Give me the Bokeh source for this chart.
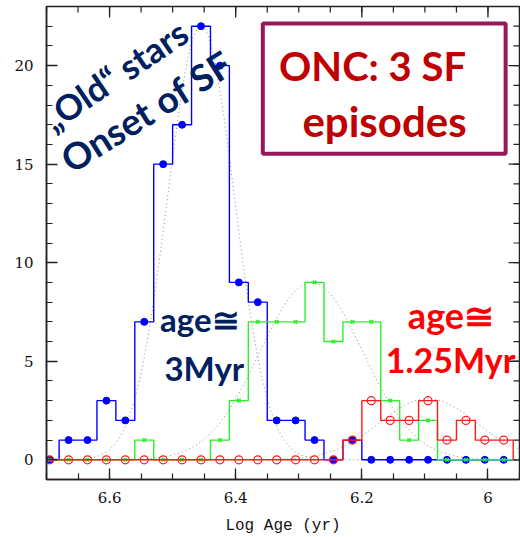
import numpy as np
from bokeh.plotting import figure
from bokeh.models import Range1d, FixedTicker, BoxAnnotation, Label
from bokeh.embed import file_html
from bokeh.resources import INLINE

# ---------------- data ----------------
bin_width = 0.03
bin_centers = [6.695, 6.665, 6.635, 6.605, 6.575, 6.545, 6.515, 6.485, 6.455,
               6.425, 6.395, 6.365, 6.335, 6.305, 6.275, 6.245, 6.215, 6.185,
               6.155, 6.125, 6.095, 6.065, 6.035, 6.005, 5.975]
blue_counts = [0, 1, 1, 3, 2, 7, 15, 17, 22, 20, 9, 8, 2, 2, 1, 0, 1, 0, 0, 0, 0, 0, 0, 0, 0]
green_counts = [0, 0, 0, 0, 0, 1, 0, 0, 0, 1, 3, 7, 7, 7, 9, 6, 7, 7, 3, 1, 2, 0, 0, 0, 0]
red_counts = [0, 0, 0, 0, 0, 0, 0, 0, 0, 0, 0, 0, 0, 0, 0, 0, 1, 3, 2, 2, 3, 1, 2, 1, 1]

# gaussian fits: amplitude, mean, sigma
blue_fit = [22.0, 6.455, 0.053]
green_fit = [9.0, 6.28, 0.082]
red_fit = [3.1, 6.095, 0.077]

x_ticks = [6.0, 6.2, 6.4, 6.6]
x_tick_labels = ["6", "6.2", "6.4", "6.6"]
x_minor = [round(6.7 - 0.05 * i, 2) for i in range(16)]
y_ticks = [0, 5, 10, 15, 20]
y_minor = list(range(-1, 24))

X0, X1, Y0, Y1 = 6.7, 5.95, -1, 23

C_BLUE = "#0000ff"
C_GREEN = "#2aef2a"
C_RED = "#ff1a1a"
C_NAVY = "#002060"
C_DARKRED = "#c00000"
C_BOX = "#97195b"
C_AX = "#222222"

FRAME = 473
MAJ, MIN = 11, 6


def step_outline(centers, counts, w):
    xs, ys = [centers[0] + w / 2], [0]
    for c, v in zip(centers, counts):
        xs += [c + w / 2, c - w / 2]
        ys += [v, v]
    xs.append(centers[-1] - w / 2); ys.append(0)
    return xs, ys


def gauss(params, x):
    a, m, s = params
    return a * np.exp(-(x - m) ** 2 / (2 * s ** 2))


p = figure(width=520, height=537, output_backend="svg", toolbar_location=None,
           x_range=Range1d(X0, X1), y_range=Range1d(Y0, Y1),
           min_border_left=46, min_border_right=1, min_border_top=6,
           min_border_bottom=58)
p.grid.visible = False
p.outline_line_color = C_AX
p.outline_line_width = 1.5
p.background_fill_color = "white"

xt = FixedTicker(ticks=x_ticks, minor_ticks=x_minor)
yt = FixedTicker(ticks=y_ticks, minor_ticks=y_minor)

for ax in (p.xaxis[0], p.yaxis[0]):
    ax.axis_line_width = 1.5
    ax.axis_line_color = C_AX
    ax.major_tick_in = MAJ
    ax.major_tick_out = 0
    ax.minor_tick_in = MIN
    ax.minor_tick_out = 0
    ax.major_tick_line_width = 1.3
    ax.minor_tick_line_width = 1.2
    ax.major_tick_line_color = C_AX
    ax.minor_tick_line_color = C_AX
    ax.major_label_text_font = "DejaVu Serif"
    ax.major_label_text_font_size = "15px"
    ax.major_label_text_color = "#111111"

p.xaxis[0].ticker = xt
p.yaxis[0].ticker = yt
p.xaxis[0].major_label_overrides = {t: s for t, s in zip(x_ticks, x_tick_labels)}
p.xaxis[0].major_label_standoff = 12
p.yaxis[0].major_label_standoff = 13
p.xaxis[0].axis_label = "Log Age (yr)"
p.xaxis[0].axis_label_text_font = "Liberation Mono"
p.xaxis[0].axis_label_text_font_size = "16px"
p.xaxis[0].axis_label_text_font_style = "normal"
p.xaxis[0].axis_label_text_color = "#111111"
p.xaxis[0].axis_label_standoff = 11

# mirrored ticks on top and right edges
dy_per_px = (Y1 - Y0) / FRAME
dx_per_px = (X0 - X1) / FRAME
for ticks, ln, w in ((x_ticks, MAJ, 1.3), (x_minor, MIN, 1.2)):
    p.segment(x0=ticks, x1=ticks, y0=[Y1] * len(ticks),
              y1=[Y1 - ln * dy_per_px] * len(ticks), line_color=C_AX, line_width=w)
for ticks, ln, w in ((y_ticks, MAJ, 1.3), (y_minor, MIN, 1.2)):
    p.segment(x0=[X1] * len(ticks), x1=[X1 + ln * dx_per_px] * len(ticks),
              y0=ticks, y1=ticks, line_color=C_AX, line_width=w)

# gaussian fits
xx = np.linspace(X0, X1, 400)
for prm in (blue_fit, green_fit, red_fit):
    p.line(xx, gauss(prm, xx), line_color="#8a8a8a", line_dash="1 3", line_width=1)

# histograms
for counts, col in ((blue_counts, C_BLUE), (green_counts, C_GREEN), (red_counts, C_RED)):
    sx, sy = step_outline(bin_centers, counts, bin_width)
    p.line(sx, sy, line_color=col, line_width=1.4)
    if col == C_BLUE:
        p.scatter(bin_centers, counts, marker="circle", size=7, fill_color=C_BLUE, line_color=C_BLUE)
    elif col == C_GREEN:
        p.scatter(bin_centers, counts, marker="x", size=5, line_color=C_GREEN, line_width=1.5)
    else:
        p.scatter(bin_centers, counts, marker="circle", size=8, fill_color=None,
                  line_color=C_RED, line_width=1.2)

# box
box = BoxAnnotation(left=6.357, right=5.972, top=22.14, bottom=15.53,
                    fill_color="white", fill_alpha=1.0, line_color=C_BOX,
                    line_width=4, line_alpha=1.0)
p.add_layout(box)

FONT = "Lato"


def lab(text, x, y, color, size, align="left", baseline="alphabetic", angle=0):
    p.add_layout(Label(x=x, y=y, text=text, text_color=color, text_font=FONT,
                       text_font_size=size, text_font_style="bold", text_align=align,
                       text_baseline=baseline, angle=angle, angle_units="deg"))


lab("ONC: 3 SF", 6.183, 19.97, C_DARKRED, "40px", align="center")
lab("episodes", 6.164, 17.17, C_DARKRED, "42px", align="center")
lab("\u201eOld\u201c stars", 6.592, 19.55, C_NAVY, "35px", align="center", baseline="middle", angle=34)
lab("Onset of SF", 6.542, 17.70, C_NAVY, "37px", align="center", baseline="middle", angle=32)
lab("age\u2245", 6.520, 7.12, C_NAVY, "33px")
lab("3Myr", 6.513, 4.68, C_NAVY, "33px")
lab("age\u2245", 6.127, 7.36, "#ff0000", "36px")
lab("1.25Myr", 6.162, 5.08, "#ff0000", "34px")

open("out.html", "w").write(file_html(p, INLINE))
